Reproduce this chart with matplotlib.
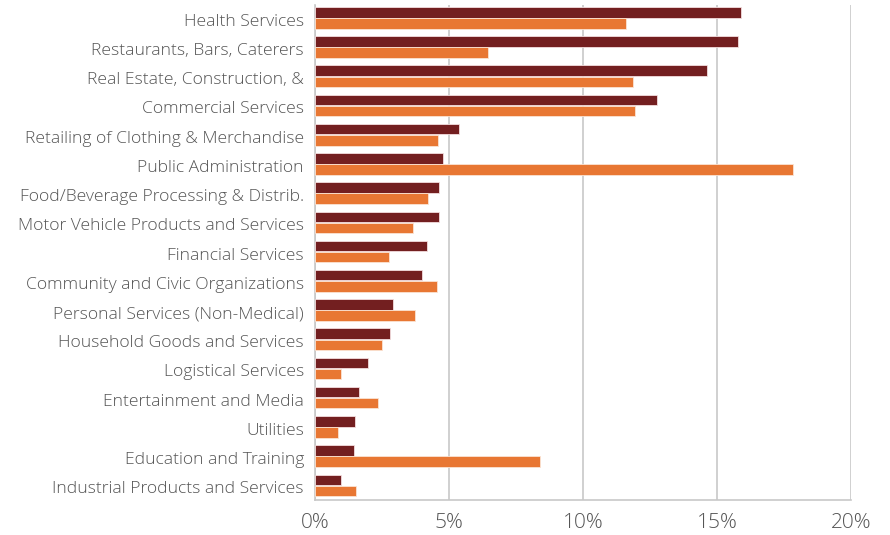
import matplotlib.pyplot as plt
import numpy as np
from matplotlib.ticker import FuncFormatter
from matplotlib.transforms import ScaledTranslation

categories = [
    "Health Services",
    "Restaurants, Bars, Caterers",
    "Real Estate, Construction, &",
    "Commercial Services",
    "Retailing of Clothing & Merchandise",
    "Public Administration",
    "Food/Beverage Processing & Distrib.",
    "Motor Vehicle Products and Services",
    "Financial Services",
    "Community and Civic Organizations",
    "Personal Services (Non-Medical)",
    "Household Goods and Services",
    "Logistical Services",
    "Entertainment and Media",
    "Utilities",
    "Education and Training",
    "Industrial Products and Services",
]

# percent shares, two series per category
series_a = [15.91, 15.79, 14.62, 12.76, 5.39, 4.79, 4.62, 4.61, 4.19, 3.98,
            2.92, 2.81, 1.97, 1.64, 1.48, 1.44, 0.96]
series_b = [11.62, 6.47, 11.88, 11.94, 4.59, 17.84, 4.22, 3.65, 2.77, 4.57,
            3.74, 2.49, 0.97, 2.34, 0.84, 8.38, 1.52]

dark = "#731F20"
orange = "#E87733"
text_col = "#555555"
grid_col = "#C8C8C8"

plt.rcParams['font.family'] = ['Open Sans', 'DejaVu Sans']

fig = plt.figure(figsize=(8.9, 5.35), dpi=100)
ax = fig.add_axes([0.354, 0.065, 0.602, 0.926])

y = np.arange(len(categories))
h = 0.36
ax.barh(y - 0.19, series_a, height=h, color=dark, edgecolor="#f3dede", linewidth=0.6, zorder=3)
ax.barh(y + 0.19, series_b, height=h, color=orange, edgecolor="#fbe3d3", linewidth=0.6, zorder=3)

ax.set_xlim(0, 20)
ax.set_ylim(16.51, -0.445)
ax.set_xticks([0, 5, 10, 15, 20])
ax.xaxis.set_major_formatter(FuncFormatter(lambda v, p: f"{v:.0f}%"))
ax.set_yticks(y)
ax.set_yticklabels(categories, fontweight="light")
for lab in ax.get_xticklabels():
    lab.set_fontweight("light")

ax.grid(axis="x", color=grid_col, linewidth=1.2, zorder=0)
for s in ["top", "right"]:
    ax.spines[s].set_visible(False)
for s in ["left", "bottom"]:
    ax.spines[s].set_color(grid_col)
    ax.spines[s].set_linewidth(1.2)

ax.tick_params(axis="y", length=0, pad=8, labelsize=12.6, labelcolor=text_col)
ax.tick_params(axis="x", length=0, pad=9, labelsize=15, labelcolor=text_col)

# nudge category labels down a touch
shift = ScaledTranslation(0, -2 / 100, fig.dpi_scale_trans)
for lab in ax.get_yticklabels():
    lab.set_transform(lab.get_transform() + shift)

fig.savefig("out.png", dpi=100)
